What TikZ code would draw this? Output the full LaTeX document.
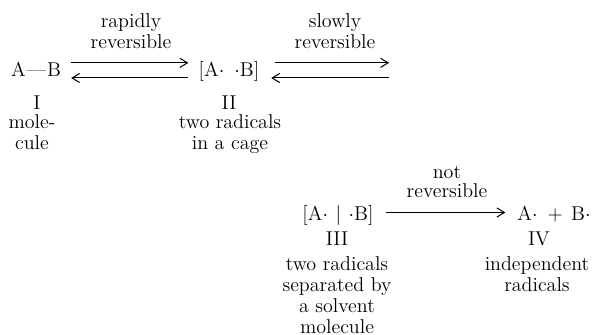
\documentclass[tikz,border=0pt]{standalone}
\usepackage{amsmath}
\usepackage{fontspec}
\usepackage{tikz}
\usetikzlibrary{arrows.meta}
\newcommand{\rtxt}{\fontsize{12}{12.6}\selectfont\addfontfeatures{LetterSpace=6}}
\tikzset{
  ar/.style={-{Straight Barb[length=4.5pt,width=5.5pt]},semithick,shorten >=4pt,shorten <=4pt},
  chem/.style={inner sep=2pt,anchor=base,font=\rtxt},
  desc/.style={inner sep=0pt,anchor=north,align=center,font=\rtxt},
  cond/.style={inner sep=0pt,anchor=north,align=center,font=\rtxt}
}
\begin{document}
\begin{tikzpicture}[x=0.6pt,y=-0.6pt]
\useasboundingbox (0,0) rectangle (600,335);
% upper row
\node[chem] (ab) at (36,77) {A\kern0.5pt---\kern0.5pt B};
\node[chem] (cage) at (229,77) {[A$\cdot$\hspace{6pt}$\cdot$B]};
\coordinate (sl) at (389,77);
\node[chem] (nI) at (37,110) {I};
\node[chem] (nII) at (229,110) {II};
\node[desc] (dI) at (32,114) {mole-\\cule};
\node[desc] (dII) at (230,114) {two radicals\\in a cage};
\node[cond] (rap) at (131,13) {rapidly\\reversible};
\node[cond] (slo) at (335,13) {slowly\\reversible};
\draw[ar] ([yshift=8.5pt]ab.base east) -- ([yshift=8.5pt]cage.base west);
\draw[ar] ([yshift=-0.6pt]cage.base west) -- ([yshift=-0.6pt]ab.base east);
\draw[ar,shorten <=7pt,shorten >=0pt] ([yshift=8.5pt]cage.base east) -- ([yshift=8.5pt]sl);
\draw[ar,shorten <=0pt,shorten >=5pt] ([yshift=-0.6pt]sl) -- ([yshift=-0.6pt]cage.base east);
% lower row
\node[chem] (solv) at (338,220) {[A$\cdot$\hspace{4.5pt}|\hspace{4.5pt}$\cdot$B]};
\node[chem] (free) at (554,220) {A$\cdot$\hspace{6pt}+\hspace{5pt}B$\cdot$};
\node[chem] (nIII) at (337,245) {III};
\node[chem] (nIV) at (539,245) {IV};
\node[desc] (dIII) at (337,256) {two radicals\\separated by\\a solvent\\molecule};
\node[desc] (dIV) at (537,256) {independent\\radicals};
\node[cond,font=\fontsize{12}{11.6}\selectfont\addfontfeatures{LetterSpace=6}] (nrev) at (447,166) {not\\reversible};
\draw[ar,shorten <=5pt,shorten >=5pt] ([yshift=4.5pt]solv.base east) -- ([yshift=4.5pt]free.base west);
\end{tikzpicture}
\end{document}
